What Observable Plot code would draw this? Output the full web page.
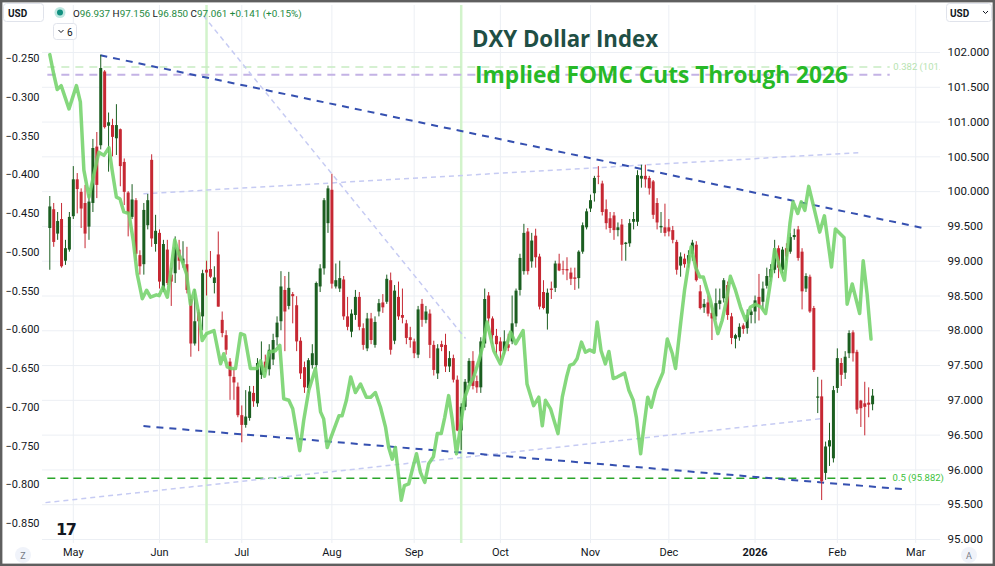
<!DOCTYPE html>
<html><head><meta charset="utf-8">
<script src="https://cdn.jsdelivr.net/npm/d3@7"></script>
<script src="https://cdn.jsdelivr.net/npm/@observablehq/plot@0.6"></script>
<style>
body{margin:0;background:#fff;}
#wrap{position:relative;width:995px;height:566px;overflow:hidden;background:#fff;}
#wrap > svg{position:absolute;left:0;top:0;}
</style></head><body><div id="wrap"></div>
<script>
// ---- DXY daily candles (trading-day index 0 = 23 Apr 2025 ... 210 = 13 Feb 2026)
const dxyOpen = [
99.47,99.74,99.39,99.6,99.0,99.16,99.64,100.17,99.99,99.83,
99.49,99.83,100.64,100.66,101.72,100.94,100.95,100.76,100.89,100.42,
99.98,99.63,99.87,99.08,98.95,99.51,100.45,99.24,99.4,98.58,
99.16,98.8,98.82,99.16,98.97,98.95,98.45,97.81,98.26,98.2,
98.87,98.88,98.68,99.09,98.15,97.93,97.55,97.33,97.19,96.78,
96.64,96.74,97.1,96.95,97.36,97.55,97.44,97.58,97.9,98.13,
98.58,98.35,98.52,98.36,97.85,97.47,97.17,97.5,97.5,98.63,
98.89,99.54,100.02,98.63,98.6,98.73,98.2,97.98,98.22,98.48,
98.03,97.74,98.17,97.79,98.27,98.4,98.41,98.72,97.85,98.48,
98.22,98.1,97.9,97.84,97.65,98.38,98.15,98.24,97.79,97.38,
97.8,97.79,97.48,97.6,97.29,96.56,96.9,97.24,97.56,97.27,
97.18,97.81,98.5,98.17,97.92,97.84,97.7,97.8,97.84,98.1,
98.58,98.85,99.42,98.99,99.36,99.06,98.55,98.24,98.6,98.61,
98.96,98.88,98.88,98.83,98.76,98.75,99.13,99.48,99.75,99.97,
100.22,100.11,99.74,99.61,99.65,99.44,99.52,99.24,99.25,99.56,
99.56,100.18,100.22,100.19,100.14,99.83,99.48,99.48,99.48,99.44,
99.27,98.93,99.03,98.96,99.1,99.23,98.56,98.33,98.4,98.25,
98.2,98.38,98.46,98.65,98.2,97.88,97.9,98.07,98.03,98.22,
98.27,98.48,98.41,98.64,98.76,98.87,99.18,98.87,99.18,99.13,
99.34,99.45,99.13,98.6,98.77,98.32,97.03,97.05,95.95,96.33,
96.16,97.17,97.53,97.39,97.67,97.97,97.69,96.99,96.95,96.96,96.937];
const dxyHigh = [
99.93,99.83,99.7,99.83,99.3,99.7,100.36,100.26,100.04,100.09,
99.96,100.75,100.85,101.96,101.74,101.13,101.04,101.25,100.9,100.47,
100.0,100.1,99.9,99.15,99.83,99.96,100.53,99.66,99.45,99.3,
99.3,98.9,99.35,99.3,99.28,99.2,98.5,98.59,98.3,98.87,
99.0,99.14,98.92,99.42,98.27,98.0,97.6,97.45,97.25,96.92,
97.14,97.2,97.2,97.6,97.84,97.65,97.8,97.95,98.2,98.85,
98.78,98.84,98.55,98.49,97.9,97.55,97.6,97.8,98.7,98.95,
99.9,100.08,100.25,98.96,99.0,98.78,98.48,98.3,98.58,98.55,
98.1,98.25,98.25,98.2,98.45,98.52,98.8,98.83,98.65,98.7,
98.6,98.15,98.05,97.88,98.35,98.45,98.35,98.3,97.85,97.8,
97.85,97.95,97.7,97.65,97.35,96.95,97.3,97.6,97.7,97.35,
97.9,98.6,98.55,98.2,98.02,97.9,98.0,97.95,98.5,98.6,
99.1,99.53,99.47,99.4,99.46,99.1,98.72,98.6,98.7,99.0,
99.1,99.0,99.05,98.9,98.9,99.15,99.55,99.75,99.95,100.22,
100.36,100.15,99.88,99.7,99.7,99.55,99.6,99.27,99.6,99.7,
100.3,100.38,100.38,100.22,100.16,99.9,99.7,99.82,99.6,99.5,
99.3,99.12,99.1,99.15,99.3,99.28,98.65,98.45,98.5,98.37,
98.6,98.6,98.75,98.7,98.25,97.95,98.1,98.1,98.3,98.3,
98.5,98.81,98.7,98.9,98.95,99.3,99.22,99.2,99.25,99.4,
99.46,99.5,99.18,98.82,98.8,98.35,97.33,97.29,96.4,96.67,
97.2,97.74,97.6,97.7,98.0,98.0,97.72,97.0,97.26,97.18,97.156];
const dxyLow = [
98.87,99.2,99.3,98.9,98.94,99.13,99.6,99.68,99.47,99.18,
99.3,99.7,99.9,100.6,100.9,100.28,100.5,100.52,100.07,99.8,
99.35,99.6,99.0,98.8,98.8,99.45,99.2,99.13,98.6,98.55,
98.65,98.35,98.68,98.87,98.9,98.53,97.62,97.78,97.7,98.0,
98.5,98.75,98.53,98.34,97.9,97.65,97.0,97.0,96.75,96.39,
96.6,96.7,96.9,96.9,97.3,97.4,97.35,97.5,97.78,98.0,
97.7,98.3,98.1,97.7,97.3,97.1,97.1,97.45,97.45,98.55,
98.8,99.4,98.6,98.6,98.55,98.15,98.0,97.9,98.15,98.0,
97.72,97.7,97.8,97.75,98.2,98.25,98.38,97.65,97.8,98.15,
98.1,97.8,97.75,97.6,97.6,98.05,98.1,97.6,97.35,97.3,
97.7,97.4,97.4,97.25,96.55,96.28,96.85,97.2,97.15,97.1,
97.1,97.75,98.1,97.8,97.65,97.56,97.65,97.7,97.8,98.05,
98.5,98.8,98.8,98.9,98.9,98.3,98.3,98.01,98.45,98.55,
98.85,98.8,98.72,98.65,98.58,98.6,99.1,99.45,99.7,99.85,
100.1,99.65,99.45,99.4,99.3,99.35,99.0,99.0,99.2,99.45,
99.5,100.05,100.05,99.95,99.6,99.45,99.4,99.35,99.35,99.25,
98.8,98.77,98.9,98.9,99.0,98.7,98.3,98.25,98.2,97.86,
98.15,98.3,98.4,98.15,97.8,97.74,97.85,97.95,97.95,98.1,
98.1,98.14,98.3,98.6,98.7,98.82,98.75,98.82,99.0,99.1,
99.3,99.0,98.3,98.55,98.25,97.4,96.81,95.56,95.85,96.05,
96.1,97.1,97.2,97.3,97.6,97.55,96.8,96.61,96.49,96.75,96.85];
const dxyClose = [
99.78,99.27,99.57,98.92,99.18,99.63,100.17,100.03,99.75,99.39,
99.85,100.62,100.09,101.77,100.92,100.99,100.78,100.95,100.36,99.99,
99.68,99.88,99.1,98.92,99.73,99.87,99.32,99.43,98.7,99.24,
98.68,98.7,99.19,99.0,99.03,98.58,97.81,98.13,98.13,98.82,
98.83,98.77,98.76,98.34,97.96,97.72,97.34,97.25,96.78,96.64,
96.76,97.12,96.98,97.53,97.5,97.46,97.72,97.86,98.11,98.63,
98.27,98.61,98.49,97.84,97.38,97.18,97.57,97.67,98.68,98.89,
99.87,100.04,98.67,98.72,98.75,98.2,98.05,98.24,98.48,98.05,
97.79,98.17,97.86,98.12,98.39,98.33,98.74,97.72,98.57,98.2,
98.18,97.89,97.86,97.67,98.3,98.15,98.27,97.79,97.43,97.74,
97.76,97.48,97.6,97.29,96.56,96.9,97.26,97.56,97.2,97.18,
97.84,98.45,98.17,97.93,97.8,97.7,97.84,97.75,98.1,98.57,
99.04,99.4,98.85,99.29,99.05,98.34,98.32,98.54,98.58,98.96,
98.86,98.87,98.86,98.74,98.74,99.13,99.51,99.71,99.87,100.19,
100.21,99.7,99.54,99.47,99.44,99.48,99.23,99.26,99.54,99.6,
100.23,100.22,100.17,100.04,99.66,99.55,99.5,99.4,99.42,99.3,
98.87,99.06,98.95,99.08,99.26,98.72,98.32,98.38,98.24,98.17,
98.39,98.43,98.72,98.22,97.89,97.93,98.05,98.02,98.22,98.27,
98.43,98.36,98.6,98.78,98.88,99.18,98.9,99.16,99.06,99.34,
99.37,99.04,98.56,98.78,98.27,97.43,97.05,95.83,96.33,96.42,
97.14,97.6,97.36,97.62,97.96,97.67,96.86,96.88,96.9,96.93,97.061];

// ---- Implied FOMC cuts through 2026 (left axis), by trading-day index
const cutIdx = [0,1,1.9,2.9,4.9,6.8,7.8,8.7,10,11.1,
12.5,13.8,15.1,15.9,17,17.9,18.9,20.2,21.3,22.3,
23.6,24.7,25.7,27.2,27.9,28.9,30,30.8,31.9,32.9,
33.9,34.9,35.9,36.9,38,38.9,40,41.9,43.6,44.4,
45.3,46.3,47.4,48.7,49.7,51.2,52.9,53.8,54.8,55.9,
57.6,58.7,59.7,61,62,63.8,64.8,66.1,67.8,69.1,
69.9,70.8,71.6,73.8,74.6,75.7,76.8,78,79.3,80.8,
81.9,83.1,84.4,85.7,86.5,87.4,88.2,89.7,90.5,91.6,
92.7,93.6,94.6,95.7,96.7,97.9,98.9,99.9,100.8,101.8,
102.7,103.8,104.8,105.8,107,108.2,109.5,110.4,111.6,113.3,
115,116.7,117.6,118.9,120.8,121.8,123.5,124.8,125.7,126.5,
127.8,129.7,130.8,131.9,132.7,133.7,134.6,135.7,136.7,137.8,
138.9,139.7,140.7,141.8,142.7,143.8,144.8,146.7,147.8,148.9,
149.7,150.8,151.6,152.6,153.5,154.6,156.5,157.6,158.9,159.7,
161,162,163.1,163.7,164.8,165.9,166.8,167.8,168.6,170.5,
171.6,172.7,173.7,175,176.3,177.6,178.8,180.1,181.6,182.7,
184,185,186.3,187.5,188.9,189.7,190.9,191.8,192.7,193.7,
195,196.5,197.7,199.5,200.5,202.7,203.5,204.8,206.7,207.6,208.6,209.6];
const cutVal = [-0.245,-0.270,-0.290,-0.285,-0.315,-0.285,-0.306,-0.394,-0.429,-0.403,
-0.371,-0.375,-0.365,-0.394,-0.429,-0.431,-0.448,-0.450,-0.485,-0.528,
-0.560,-0.549,-0.558,-0.555,-0.556,-0.545,-0.558,-0.528,-0.484,-0.502,
-0.513,-0.528,-0.567,-0.549,-0.579,-0.614,-0.605,-0.601,-0.644,-0.631,
-0.648,-0.650,-0.650,-0.605,-0.607,-0.650,-0.650,-0.640,-0.660,-0.629,
-0.627,-0.620,-0.689,-0.691,-0.702,-0.756,-0.717,-0.678,-0.650,-0.706,
-0.715,-0.752,-0.741,-0.711,-0.711,-0.691,-0.661,-0.681,-0.670,-0.687,
-0.687,-0.681,-0.700,-0.726,-0.752,-0.767,-0.752,-0.820,-0.801,-0.799,
-0.777,-0.760,-0.784,-0.797,-0.773,-0.764,-0.734,-0.734,-0.713,-0.685,
-0.715,-0.760,-0.726,-0.689,-0.672,-0.661,-0.640,-0.623,-0.590,-0.627,
-0.644,-0.618,-0.603,-0.618,-0.601,-0.670,-0.698,-0.687,-0.724,-0.691,
-0.702,-0.734,-0.687,-0.661,-0.646,-0.644,-0.637,-0.616,-0.629,-0.626,
-0.629,-0.590,-0.627,-0.644,-0.628,-0.663,-0.661,-0.656,-0.678,-0.691,
-0.713,-0.760,-0.726,-0.687,-0.700,-0.678,-0.655,-0.612,-0.631,-0.650,
-0.592,-0.549,-0.513,-0.493,-0.519,-0.532,-0.532,-0.549,-0.562,-0.605,
-0.588,-0.562,-0.531,-0.549,-0.571,-0.588,-0.571,-0.567,-0.571,-0.579,
-0.536,-0.496,-0.519,-0.536,-0.463,-0.435,-0.450,-0.435,-0.446,-0.415,
-0.442,-0.474,-0.453,-0.519,-0.470,-0.481,-0.567,-0.541,-0.579,-0.511,-0.554,-0.612];

// ---- axes / ticks
const monthIdx = [6,28,49,72,93,115,138,158,180,201,221];
const monthLabels = ["May","Jun","Jul","Aug","Sep","Oct","Nov","Dec","2026","Feb","Mar"];
const dxyTicks = [95,95.5,96,96.5,97,97.5,98,98.5,99,99.5,100,100.5,101,101.5,102];
const cutTicks = [-0.25,-0.30,-0.35,-0.40,-0.45,-0.50,-0.55,-0.60,-0.65,-0.70,-0.75,-0.80,-0.85];

// ---- drawings (index, value, index, value)
const fomcDays = [40,105];
const fib382 = {y:101.79, x1:-0.5, x2:214.5, label:"0.382 (101.786)"};
const purpleLevel = {y:101.68, x1:-0.5, x2:214.5};
const fib50 = {y:95.882, x1:-0.5, x2:213.5, label:"0.5 (95.882)"};
const blueUpper = [12.9,101.96,223.5,99.47];
const blueLower = [23.9,96.63,218.4,95.72];
const lavUpper = [23.9,99.97,206.4,100.56];
const lavLower = [-1.1,95.53,197.5,96.74];
const lavDiag = [39.2,102.53,106.1,97.89];

const candles = dxyClose.map((c,i)=>({i, o:dxyOpen[i], h:dxyHigh[i], l:dxyLow[i], c}));
const up = candles.filter(d=>d.c>=d.o), down = candles.filter(d=>d.c<d.o);
const cuts = cutIdx.map((x,k)=>({i:x, v:cutVal[k]}));
const seg = a => ({x1:a[0], y1:a[1], x2:a[2], y2:a[3]});
const upColor = "#1b5e20", downColor = "#c62833";

const common = {
  width:995, height:566, marginLeft:42, marginRight:55, marginTop:5, marginBottom:23,
  style:{fontFamily:"Roboto, 'Liberation Sans', sans-serif", fontSize:"11px", color:"#131722", background:"transparent", overflow:"visible"}
};
const xScale = {type:"linear", domain:[-1.863, 227.33], axis:null};
const fmtMonth = d => monthLabels[monthIdx.indexOf(d)];

const base = Plot.plot({
  ...common,
  x: xScale,
  y: {domain:[95,102], range:[539,52], axis:null},
  marks: [
    Plot.gridY({ticks:dxyTicks, stroke:"#eceff4", strokeOpacity:1}),
    Plot.gridX({ticks:monthIdx, stroke:"#eceff4", strokeOpacity:1}),
    Plot.ruleX(fomcDays, {stroke:"#d2f3cb", strokeWidth:2.5}),
    Plot.ruleY([fib382], {y:"y", x1:"x1", x2:"x2", stroke:"#c8ecc2", strokeWidth:1.5, strokeDasharray:"8,6"}),
    Plot.ruleY([purpleLevel], {y:"y", x1:"x1", x2:"x2", stroke:"#c4b3e5", strokeWidth:2, strokeDasharray:"8,6"}),
    Plot.ruleY([fib50], {y:"y", x1:"x1", x2:"x2", stroke:"#2aa52a", strokeWidth:1.5, strokeDasharray:"8,5"}),
    Plot.link([lavUpper, lavLower, lavDiag].map(seg), {x1:"x1", y1:"y1", x2:"x2", y2:"y2", stroke:"#c6cbf3", strokeWidth:1.5, strokeDasharray:"5,4"}),
    Plot.link([blueUpper, blueLower].map(seg), {x1:"x1", y1:"y1", x2:"x2", y2:"y2", stroke:"#3550b0", strokeWidth:2, strokeDasharray:"7,6"}),
    Plot.ruleX(up, {x:"i", y1:"l", y2:"h", stroke:upColor, strokeWidth:1}),
    Plot.ruleX(up, {x:"i", y1:"o", y2:"c", stroke:upColor, strokeWidth:3}),
    Plot.ruleX(down, {x:"i", y1:"l", y2:"h", stroke:downColor, strokeWidth:1}),
    Plot.ruleX(down, {x:"i", y1:"o", y2:"c", stroke:downColor, strokeWidth:3}),
    Plot.text([fib382], {x:()=>215.3, y:"y", text:"label", textAnchor:"start", fill:"#b7e3b0", fontSize:9.5, clip:true}),
    Plot.text([fib50], {x:()=>215.1, y:"y", text:"label", textAnchor:"start", fill:"#3cc23c", fontSize:9.5}),
    Plot.axisX({ticks:monthIdx.filter(d=>d!==180), tickFormat:fmtMonth, tickSize:0, tickPadding:5, fontSize:11, label:null}),
    Plot.axisX({ticks:[180], tickFormat:fmtMonth, tickSize:0, tickPadding:5, fontSize:11, fontWeight:"bold", label:null}),
    Plot.axisY({anchor:"right", ticks:dxyTicks, tickFormat:d=>d.toFixed(3), tickSize:0, tickPadding:7, fontSize:11.5, label:null})
  ]
});

const overlay = Plot.plot({
  ...common,
  x: xScale,
  y: {domain:[-0.85,-0.25], range:[523,58], axis:null},
  marks: [
    Plot.line(cuts, {x:"i", y:"v", stroke:"#74d36b", strokeWidth:3.5, strokeOpacity:0.88, strokeLinejoin:"round"}),
    Plot.axisY({anchor:"left", ticks:cutTicks, tickFormat:d=>d.toFixed(3).replace("-","\u2212"), tickSize:0, tickPadding:3, fontSize:11, label:null})
  ]
});

const wrap = document.getElementById("wrap");
wrap.appendChild(base);
wrap.appendChild(overlay);

const ns = "http://www.w3.org/2000/svg";
const deco = document.createElementNS(ns, "svg");
deco.setAttribute("width", 995); deco.setAttribute("height", 566);
deco.innerHTML = `
<rect x="1.2" y="1.2" width="992.6" height="563.6" fill="none" stroke="#5f5f5f" stroke-width="2.4"/>
<rect x="3.5" y="3.5" width="40" height="18" rx="3" fill="#fff" stroke="#e0e3eb"/>
<text x="8" y="16.5" font-family="Roboto" font-size="10" font-weight="bold" fill="#131722">USD</text>
<circle cx="60" cy="12.5" r="5.5" fill="#bfe8e1"/><circle cx="60" cy="12.5" r="3" fill="#11907f"/>
<text x="73" y="16.5" font-family="Roboto, sans-serif" font-size="9.9" fill="#1e8a42"><tspan fill="#131722">O</tspan>96.937 <tspan fill="#131722">H</tspan>97.156 <tspan fill="#131722">L</tspan>96.850 <tspan fill="#131722">C</tspan>97.061 +0.141 (+0.15%)</text>
<rect x="53.5" y="23.5" width="23" height="16" rx="3" fill="#fff" stroke="#e0e3eb"/>
<path d="M58.5 30 l2.5 2.5 l2.5 -2.5" fill="none" stroke="#131722" stroke-width="1"/>
<text x="67" y="35.5" font-family="Roboto" font-size="10" fill="#131722">6</text>
<rect x="946.5" y="3.5" width="45" height="18" rx="3" fill="#fff" stroke="#e0e3eb"/>
<text x="950" y="16.5" font-family="Roboto" font-size="10" font-weight="bold" fill="#131722">USD</text>
<path d="M983 11 l2.5 2.5 l2.5 -2.5" fill="none" stroke="#131722" stroke-width="1"/>
<text x="472" y="47" font-family="'Open Sans', sans-serif" font-weight="bold" font-size="23" fill="#1f4f45" textLength="186" lengthAdjust="spacingAndGlyphs">DXY Dollar Index</text>
<text x="475" y="83" font-family="'Open Sans', sans-serif" font-weight="bold" font-size="23" fill="#27b927" textLength="373" lengthAdjust="spacingAndGlyphs">Implied FOMC Cuts Through 2026</text>
<circle cx="23" cy="555" r="8" fill="#f0f3fa"/><text x="23" y="558.5" text-anchor="middle" font-family="Roboto" font-size="9" fill="#787b86">Z</text>
<circle cx="969" cy="555" r="8" fill="#f0f3fa"/><text x="969" y="558.5" text-anchor="middle" font-family="Roboto" font-size="9" fill="#787b86">A</text>
<text x="56" y="535" font-family="DejaVu Sans" font-weight="900" font-size="16" letter-spacing="-1.5" fill="#131722">17</text>
`;
wrap.appendChild(deco);
</script></body></html>
